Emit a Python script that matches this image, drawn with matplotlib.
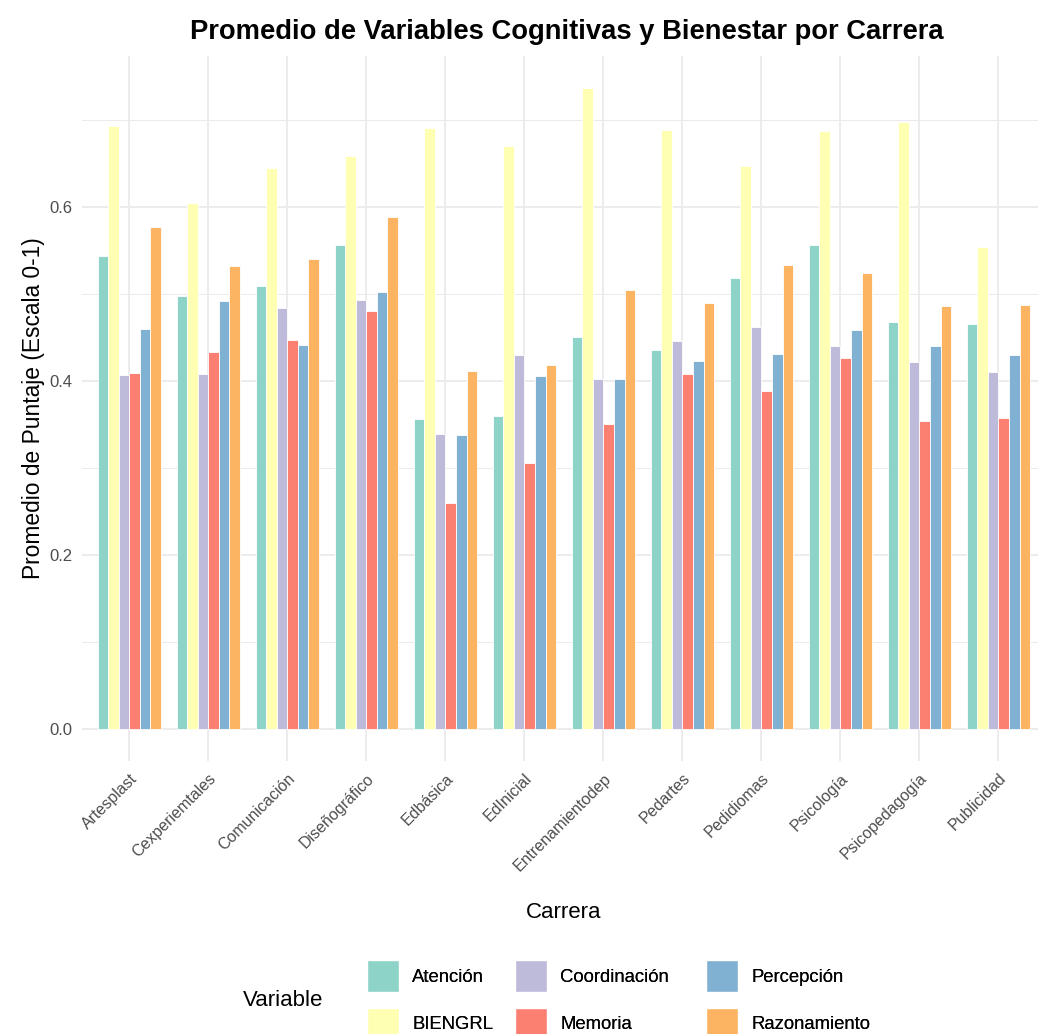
import numpy as np
import matplotlib
matplotlib.use("Agg")
import matplotlib.pyplot as plt
from matplotlib.ticker import MultipleLocator

plt.rcParams["font.family"] = ["Liberation Sans", "DejaVu Sans"]

# ── data ─────────────────────────────────────────────────────
carreras = ["Artesplast", "Cexperiemtales", "Comunicación", "Diseñográfico",
            "Edbásica", "EdInicial", "Entrenamientodep", "Pedartes",
            "Pedidiomas", "Psicología", "Psicopedagogía", "Publicidad"]
variables = ["Atención", "BIENGRL", "Coordinación", "Memoria",
             "Percepción", "Razonamiento"]

atencion     = [0.544, 0.498, 0.509, 0.557, 0.356, 0.360, 0.451, 0.436, 0.518, 0.556, 0.468, 0.466]
biengrl      = [0.693, 0.605, 0.645, 0.659, 0.691, 0.670, 0.737, 0.689, 0.647, 0.687, 0.698, 0.554]
coordinacion = [0.407, 0.408, 0.484, 0.493, 0.339, 0.430, 0.402, 0.446, 0.462, 0.440, 0.422, 0.410]
memoria      = [0.409, 0.433, 0.447, 0.480, 0.260, 0.306, 0.351, 0.408, 0.389, 0.426, 0.354, 0.357]
percepcion   = [0.460, 0.492, 0.441, 0.502, 0.338, 0.406, 0.402, 0.423, 0.431, 0.459, 0.440, 0.430]
razonamiento = [0.577, 0.532, 0.540, 0.589, 0.411, 0.418, 0.505, 0.490, 0.534, 0.524, 0.486, 0.487]

series = [atencion, biengrl, coordinacion, memoria, percepcion, razonamiento]
colors = ["#8DD3C7", "#FFFFB3", "#BEBADA", "#FB8072", "#80B1D3", "#FDB462"]

# ── figure ───────────────────────────────────────────────────
fig = plt.figure(figsize=(10.38, 10.34), dpi=100)
ax = fig.add_axes([0.079, 0.264, 0.921, 0.682])

x = np.arange(len(carreras))
group_w = 0.8
bar_w = group_w / len(variables)
bars = []
for i, (vals, col) in enumerate(zip(series, colors)):
    offs = -group_w / 2 + bar_w * (i + 0.5)
    b = ax.bar(x + offs, vals, width=bar_w, color=col, edgecolor="white",
               linewidth=0.6, label=variables[i], zorder=3)
    bars.append(b)

ax.set_xlim(-0.6, len(carreras) - 1 + 0.5)
ax.set_ylim(-0.037, 0.774)
ax.yaxis.set_major_locator(MultipleLocator(0.2))
ax.yaxis.set_minor_locator(MultipleLocator(0.1))
ax.set_yticks([0.0, 0.2, 0.4, 0.6])
ax.set_yticklabels(["0.0", "0.2", "0.4", "0.6"])

ax.grid(which="major", axis="both", color="#EBEBEB", linewidth=1.3, zorder=0)
ax.grid(which="minor", axis="y", color="#EBEBEB", linewidth=0.7, zorder=0)
for s in ax.spines.values():
    s.set_visible(False)
ax.tick_params(which="both", length=0)
ax.tick_params(axis="y", labelsize=12, labelcolor="#4D4D4D", pad=7)

ax.set_xticks(x)
ax.set_xticklabels(carreras, rotation=45, ha="right", va="top",
                   rotation_mode="anchor", fontsize=11.5, color="#4D4D4D")
ax.tick_params(axis="x", pad=7)

ax.set_title("Promedio de Variables Cognitivas y Bienestar por Carrera",
             fontsize=19.7, fontweight="bold", pad=12, x=0.507)
ax.set_ylabel("Promedio de Puntaje (Escala 0-1)", fontsize=16.4, labelpad=3)
fig.text(564 / 1038, 1 - 912 / 1034, "Carrera", fontsize=16,
         ha="center", va="center")

# ── legend ───────────────────────────────────────────────────
fig.text(243 / 1038, 1 - 1001 / 1034, "Variable", fontsize=16,
         ha="left", va="center")
col_x = [360, 508, 699]
for k in range(3):
    hs = [bars[2 * k][0], bars[2 * k + 1][0]]
    hs_lab = [variables[2 * k], variables[2 * k + 1]]
    proxies = [plt.Rectangle((0, 0), 1, 1, facecolor=h.get_facecolor(),
                             edgecolor="white") for h in hs]
    leg = fig.legend(proxies, hs_lab, loc="upper left",
                     bbox_to_anchor=(col_x[k] / 1038, 1 - 953 / 1034),
                     frameon=False, fontsize=13.3, handlelength=1.73,
                     handleheight=2.29, labelspacing=0.82, handletextpad=0.7,
                     borderaxespad=0)
    fig.add_artist(leg)

plt.savefig("out.png", dpi=100)
plt.close()
